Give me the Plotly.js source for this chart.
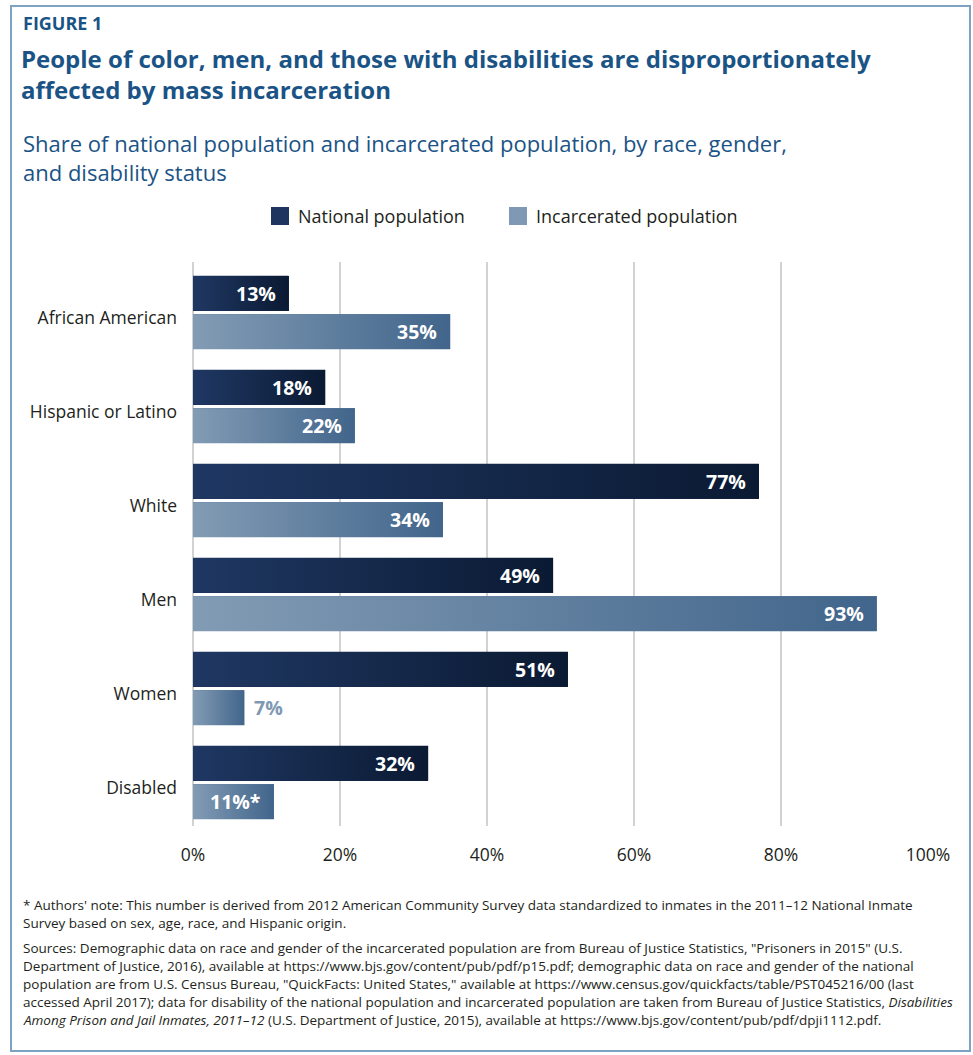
<!DOCTYPE html>
<html>
<head>
<meta charset="utf-8">
<script src="https://cdn.plot.ly/plotly-3.0.1.min.js"></script>
<style>html,body{margin:0;padding:0;background:#fff;}</style>
</head>
<body>
<div id="chart" style="width:973px;height:1055px;"></div>
<script>
// ---- Data ----
const categories = ['African American', 'Hispanic or Latino', 'White', 'Men', 'Women', 'Disabled'];
const nationalValues = [13, 18, 77, 49, 51, 32];
const incarceratedValues = [35, 22, 34, 93, 7, 11];
const nationalLabels = ['13%', '18%', '77%', '49%', '51%', '32%'];
const incarceratedLabels = ['35%', '22%', '34%', '93%', '7%', '11%*'];
const xTickValues = [0, 20, 40, 60, 80, 100];
const xTickLabels = ['0%', '20%', '40%', '60%', '80%', '100%'];
const seriesNames = ['National population', 'Incarcerated population'];

// ---- Style / layout ----
const FONT = '"Open Sans", "Noto Sans", sans-serif';
const W = 973, H = 1055;
const M = {l: 193, r: 45, t: 262, b: 229};
const plotW = W - M.l - M.r, plotH = H - M.t - M.b;
const px = v => (v - M.l) / plotW;          // pixel x -> paper x
const py = v => (H - M.b - v) / plotH;      // pixel y -> paper y
const BLUE = '#1a5385';
const TEXT = '#231f20';
const natGrad = ['#1f3863', '#0b1a33'];
const incGrad = ['#839cb5', '#41658b'];
const BAR_W = 0.372, NAT_OFF = -0.39, INC_OFF = 0.018;

const yIdx = categories.map((c, i) => i);
const traces = [];
traces.push({
  type: 'bar', orientation: 'h', name: seriesNames[0], y: yIdx, x: nationalValues,
  width: BAR_W, offset: NAT_OFF, marker: {color: '#16294c'}, showlegend: false, hoverinfo: 'x'
});
traces.push({
  type: 'bar', orientation: 'h', name: seriesNames[1], y: yIdx, x: incarceratedValues,
  width: BAR_W, offset: INC_OFF, marker: {color: '#62809f'}, showlegend: false, hoverinfo: 'x'
});
// gradient overlays, one per bar
function gradBar(v, i, off, grad) {
  const y0 = i + off, y1 = i + off + BAR_W;
  return {
    type: 'scatter', mode: 'lines', x: [0, v, v, 0, 0], y: [y0, y0, y1, y1, y0],
    fill: 'toself', line: {width: 0, color: 'rgba(0,0,0,0)'},
    fillgradient: {type: 'horizontal', colorscale: [[0, grad[0]], [1, grad[1]]]},
    fillcolor: grad[1], hoverinfo: 'skip', showlegend: false
  };
}
nationalValues.forEach((v, i) => traces.push(gradBar(v, i, NAT_OFF, natGrad)));
incarceratedValues.forEach((v, i) => traces.push(gradBar(v, i, INC_OFF, incGrad)));

const annotations = [];
// value labels
function valueLabel(v, i, off, txt, outsideColor) {
  const inside = v >= 10;
  annotations.push({
    xref: 'x', yref: 'y', x: v, y: i + off + BAR_W / 2, text: '<b>' + txt + '</b>',
    showarrow: false, xanchor: inside ? 'right' : 'left', yanchor: 'middle',
    xshift: inside ? -11 : 8, font: {family: FONT, size: 19.5, color: inside ? '#ffffff' : outsideColor}
  });
}
nationalValues.forEach((v, i) => valueLabel(v, i, NAT_OFF, nationalLabels[i], natGrad[0]));
incarceratedValues.forEach((v, i) => valueLabel(v, i, INC_OFF, incarceratedLabels[i], '#8099b3'));

// header texts
annotations.push({xref: 'paper', yref: 'paper', x: px(21), y: py(23), xanchor: 'left', yanchor: 'middle',
  text: '<b>FIGURE 1</b>', showarrow: false, font: {family: FONT, size: 18, color: BLUE}});
const subtitleLines = ['Share of national population and incarcerated population, by race, gender,', 'and disability status'];
const subtitleY = [143, 172];
subtitleLines.forEach((t, k) => annotations.push({xref: 'paper', yref: 'paper', x: px(21), y: py(subtitleY[k]),
  xanchor: 'left', yanchor: 'middle', text: t, showarrow: false, font: {family: FONT, size: 22, color: BLUE}}));

// legend
const legendTextX = [296, 534];
seriesNames.forEach((n, k) => annotations.push({xref: 'paper', yref: 'paper', x: px(legendTextX[k]), y: py(216),
  xanchor: 'left', yanchor: 'middle', text: n, showarrow: false, font: {family: FONT, size: 18, color: TEXT}}));

// footnotes
const footLines = [
  '* Authors\' note: This number is derived from 2012 American Community Survey data standardized to inmates in the 2011–12 National Inmate',
  'Survey based on sex, age, race, and Hispanic origin.',
  'Sources: Demographic data on race and gender of the incarcerated population are from Bureau of Justice Statistics, "Prisoners in 2015" (U.S.',
  'Department of Justice, 2016), available at https://www.bjs.gov/content/pub/pdf/p15.pdf; demographic data on race and gender of the national',
  'population are from U.S. Census Bureau, "QuickFacts: United States," available at https://www.census.gov/quickfacts/table/PST045216/00 (last',
  'accessed April 2017); data for disability of the national population and incarcerated population are taken from Bureau of Justice Statistics, <i>Disabilities</i>',
  '<i>Among Prison and Jail Inmates, 2011–12</i> (U.S. Department of Justice, 2015), available at https://www.bjs.gov/content/pub/pdf/dpji1112.pdf.'
];
const footY = [905, 923, 948, 966, 984, 1002, 1020];
footLines.forEach((t, k) => annotations.push({xref: 'paper', yref: 'paper', x: px(21), y: py(footY[k]),
  xanchor: 'left', yanchor: 'middle', text: t, showarrow: false, font: {family: FONT, size: 13.5, color: TEXT}}));

const shapes = [
  {type: 'rect', xref: 'paper', yref: 'paper', x0: px(11), x1: px(970), y0: py(1051), y1: py(6),
   line: {color: '#7ea2c1', width: 2}, fillcolor: 'rgba(0,0,0,0)', layer: 'below'},
  {type: 'rect', xref: 'paper', yref: 'paper', x0: px(271), x1: px(289), y0: py(225), y1: py(207),
   line: {width: 0}, fillcolor: '#1e3560'},
  {type: 'rect', xref: 'paper', yref: 'paper', x0: px(509), x1: px(527), y0: py(225), y1: py(207),
   line: {width: 0}, fillcolor: '#7f98b3'}
];

const layout = {
  width: W, height: H,
  margin: M,
  paper_bgcolor: '#ffffff', plot_bgcolor: '#ffffff',
  showlegend: false,
  font: {family: FONT, color: TEXT},
  title: {
    text: '<b>People of color, men, and those with disabilities are disproportionately<br>affected by mass incarceration</b>',
    xref: 'container', yref: 'container', x: 21 / W, xanchor: 'left', y: 1 - 68 / H, yanchor: 'top',
    font: {family: FONT, size: 24, color: BLUE}
  },
  xaxis: {
    range: [0, 100], tickvals: xTickValues, ticktext: xTickLabels,
    showgrid: true, gridcolor: '#d2d2d2', gridwidth: 2,
    zeroline: true, zerolinecolor: '#d2d2d2', zerolinewidth: 2,
    showline: false, ticks: '', ticklabelstandoff: 16,
    tickfont: {family: FONT, size: 17.5, color: TEXT}, fixedrange: true
  },
  yaxis: {
    range: [5.463, -0.537], tickvals: yIdx, ticktext: categories,
    showgrid: false, zeroline: false, showline: false, ticks: '', ticklabelstandoff: 15,
    ticklabelshift: -5,
    tickfont: {family: FONT, size: 17.5, color: TEXT}, fixedrange: true
  },
  annotations: annotations,
  shapes: shapes,
  bargap: 0
};

Plotly.newPlot('chart', traces, layout, {displayModeBar: false, staticPlot: true});
</script>
</body>
</html>
